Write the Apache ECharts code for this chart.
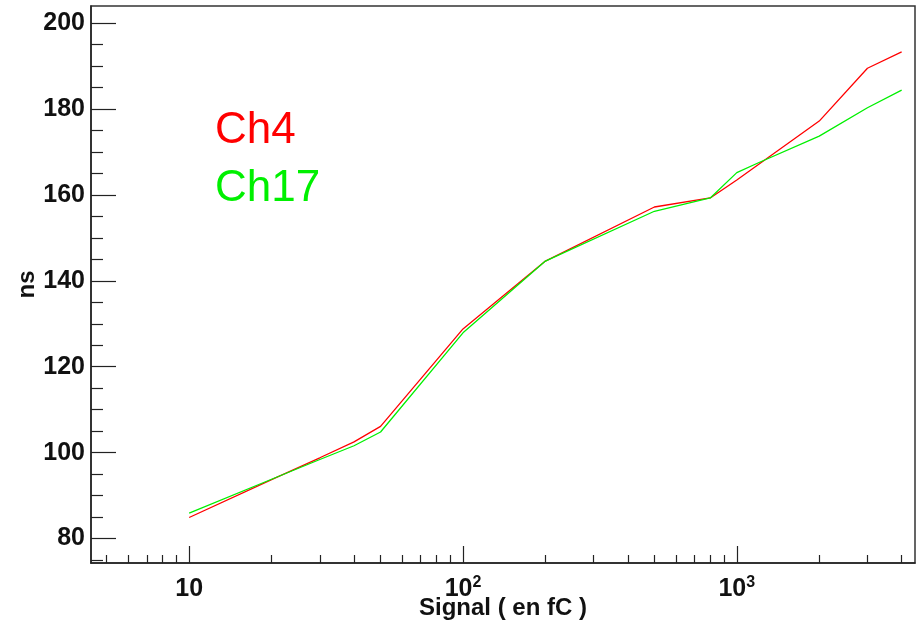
<!DOCTYPE html>
<html>
<head>
<meta charset="utf-8">
<script src="https://cdn.jsdelivr.net/npm/echarts@6/dist/echarts.min.js"></script>
<style>
html, body { margin: 0; padding: 0; background: #fff; }
#chart_main { width: 919px; height: 624px; }
</style>
</head>
<body>
<div id="chart_main"></div>
<script>
// data
var ch4_x = [10, 20, 30, 40, 50, 100, 200, 500, 800, 1000, 2000, 3000, 4000];
var ch4_y = [84.9, 93.7, 98.8, 102.5, 106.1, 128.8, 144.6, 157.2, 159.3, 163.5, 177.2, 189.5, 193.3];
var ch17_x = [10, 20, 30, 40, 50, 100, 200, 500, 800, 1000, 1200, 2000, 3000, 4000];
var ch17_y = [85.9, 93.8, 98.4, 101.6, 104.8, 127.9, 144.6, 156.2, 159.3, 165.2, 167.5, 173.7, 180.3, 184.4];

var x_major = [10, 100, 1000];
var x_minor = [5, 6, 7, 8, 9, 20, 30, 40, 50, 60, 70, 80, 90, 200, 300, 400, 500, 600, 700, 800, 900, 2000, 3000, 4000];
var y_major = [80, 100, 120, 140, 160, 180, 200];
var y_minor = [75, 85, 90, 95, 105, 110, 115, 125, 130, 135, 145, 150, 155, 165, 170, 175, 185, 190, 195];

var X_MIN = 4.38, X_MAX = 4475, Y_MIN = 74.3, Y_MAX = 204;
var FONT = '"Liberation Sans", Arial, Helvetica, sans-serif';

function pairs(xs, ys){
    var out = [];
    for(var i=0;i<xs.length;i++){
        out.push([xs[i], ys[i]]);
    }
    return out;
}

var myChart = echarts.init(document.getElementById('chart_main'), null, {renderer: 'canvas'});
var option = {
    backgroundColor: '#fff',
    animation: false,
    grid: {
        left: 91,
        right: 4,
        top: 6,
        bottom: 61,
        outerBoundsMode: 'none',
        containLabel: false,
        show: true,
        borderColor: '#333',
        borderWidth: 1.5
    },
    legend: {
        orient: 'vertical',
        left: 205,
        top: 104,
        icon: 'none',
        itemWidth: 0,
        itemGap: 14,
        textStyle: { fontFamily: FONT, fontSize: 44 },
        data: [
            { name: 'Ch4', textStyle: { color: '#ff0000' } },
            { name: 'Ch17', textStyle: { color: '#00f000' } }
        ],
        selectedMode: false
    },
    xAxis: [
        {
            type: 'log',
            logBase: 10,
            min: X_MIN,
            max: X_MAX,
            name: 'Signal ( en fC )',
            nameLocation: 'middle',
            nameGap: 33,
            nameMoveOverlap: false,
            nameTextStyle: { fontFamily: FONT, fontWeight: 'bold', fontSize: 24, color: '#111' },
            axisLine: { lineStyle: { color: '#222', width: 1.5 } },
            splitLine: { show: false },
            axisTick: { inside: true, length: 17, customValues: x_major, lineStyle: { color: '#222', width: 1.2 } },
            axisLabel: {
                customValues: x_major,
                margin: 12,
                fontFamily: FONT,
                fontWeight: 'bold',
                fontSize: 25,
                color: '#111',
                formatter: function(v){
                    var p = Math.round(Math.log(v) / Math.LN10);
                    if(p === 1){
                        return '{b|10}';
                    }
                    return '{b|10}{s|' + p + '}';
                },
                rich: {
                    b: { fontFamily: FONT, fontWeight: 'bold', fontSize: 25, lineHeight: 28, color: '#111' },
                    s: { fontFamily: FONT, fontWeight: 'bold', fontSize: 16, lineHeight: 12, verticalAlign: 'top', color: '#111' }
                }
            }
        },
        {
            type: 'log',
            logBase: 10,
            min: X_MIN,
            max: X_MAX,
            position: 'bottom',
            axisLine: { show: false },
            splitLine: { show: false },
            axisLabel: { show: false },
            axisTick: { inside: true, length: 8, customValues: x_minor, lineStyle: { color: '#222', width: 1.2 } }
        }
    ],
    yAxis: [
        {
            type: 'value',
            min: Y_MIN,
            max: Y_MAX,
            name: 'ns',
            nameLocation: 'middle',
            nameGap: 52,
            nameMoveOverlap: false,
            nameTextStyle: { fontFamily: FONT, fontWeight: 'bold', fontSize: 24, color: '#111' },
            axisLine: { show: true, lineStyle: { color: '#222', width: 1.5 } },
            splitLine: { show: false },
            axisTick: { inside: true, length: 25, customValues: y_major, lineStyle: { color: '#222', width: 1.2 } },
            axisLabel: {
                customValues: y_major,
                margin: 6,
                padding: [4, 0, 0, 0],
                fontFamily: FONT,
                fontWeight: 'bold',
                fontSize: 25,
                color: '#111'
            }
        },
        {
            type: 'value',
            min: Y_MIN,
            max: Y_MAX,
            position: 'left',
            axisLine: { show: false },
            splitLine: { show: false },
            axisLabel: { show: false },
            axisTick: { show: true, inside: true, length: 12, customValues: y_minor, lineStyle: { color: '#222', width: 1.2 } }
        }
    ],
    series: [
        {
            name: 'Ch4',
            type: 'line',
            symbol: 'none',
            color: '#ff0000',
            lineStyle: { width: 1.3, color: '#ff0000' },
            data: pairs(ch4_x, ch4_y)
        },
        {
            name: 'Ch17',
            type: 'line',
            symbol: 'none',
            color: '#00f000',
            lineStyle: { width: 1.3, color: '#00f000' },
            data: pairs(ch17_x, ch17_y)
        }
    ]
};
myChart.setOption(option);
</script>
</body>
</html>
